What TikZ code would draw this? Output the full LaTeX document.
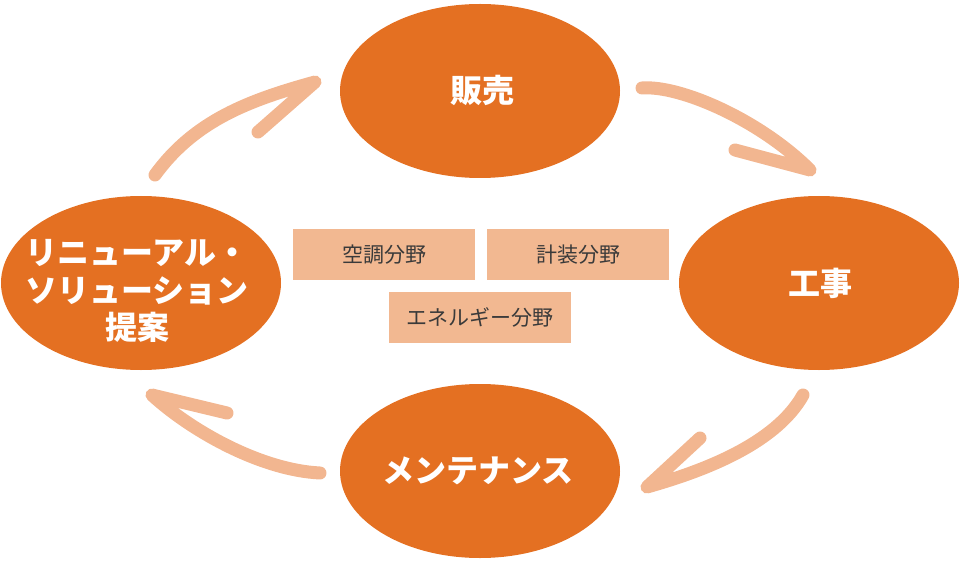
\documentclass[tikz,border=0pt]{standalone}
\usepackage{fontspec}
\newfontfamily\cjk{Noto Sans CJK JP}
\usetikzlibrary{shapes.geometric}
\definecolor{ora}{HTML}{E47022}
\definecolor{arr}{HTML}{F2B690}
\definecolor{boxc}{HTML}{F2B891}
\definecolor{txt}{HTML}{3A3A3A}
\tikzset{
  oval/.style={ellipse, fill=ora, draw=none, minimum width=280pt, minimum height=174pt, inner sep=0pt},
  ovaltext/.style={text=white, font=\cjk\bfseries\fontsize{32}{37.5}\selectfont, align=center, inner sep=0pt},
  field/.style={fill=boxc, draw=none, minimum width=182pt, minimum height=51pt, inner sep=0pt, text=txt, font=\cjk\fontsize{21}{25}\selectfont},
  sketch/.style={draw=arr, line width=13pt, line cap=round, line join=round}
}
\begin{document}
\begin{tikzpicture}[x=1pt,y=-1pt]
\useasboundingbox (0,0) rectangle (960,561);
% ovals
\node[oval] (sales) at (480,91) {};
\node[oval] (works) at (819,283) {};
\node[oval] (maint) at (480,471) {};
\node[oval] (renew) at (141,283) {};
\node[ovaltext] (salesT) at (482,90) {販売};
\node[ovaltext] (worksT) at (820,283) {工事};
\node[ovaltext] (maintT) at (478,471) {メンテナンス};
\node[ovaltext] (renewT) at (137,291) {リニューアル・\\ソリューション\\提案};
% fields
\node[field] (f1) at (384,254.5) {空調分野};
\node[field] (f2) at (578,254.5) {計装分野};
\node[field] (f3) at (480,317.5) {エネルギー分野};
% arrow coordinates
\coordinate (a1s) at (155,175); \coordinate (a1t) at (315,82); \coordinate (a1b) at (258,132);
\coordinate (a2s) at (642,88);  \coordinate (a2t) at (810,170); \coordinate (a2b) at (735,150);
\coordinate (a3s) at (803,395); \coordinate (a3t) at (647,487); \coordinate (a3b) at (700,438);
\coordinate (a4s) at (320,473); \coordinate (a4t) at (152,395); \coordinate (a4b) at (227,413);
\draw[sketch] (a1s) .. controls (195,120) and (250,100) .. (a1t) -- (a1b);
\draw[sketch] (a2s) .. controls (680,85) and (760,120) .. (a2t) -- (a2b);
\draw[sketch] (a3s) .. controls (775,445) and (700,472) .. (a3t) -- (a3b);
\draw[sketch] (a4s) .. controls (260,470) and (190,430) .. (a4t) -- (a4b);
\end{tikzpicture}
\end{document}
